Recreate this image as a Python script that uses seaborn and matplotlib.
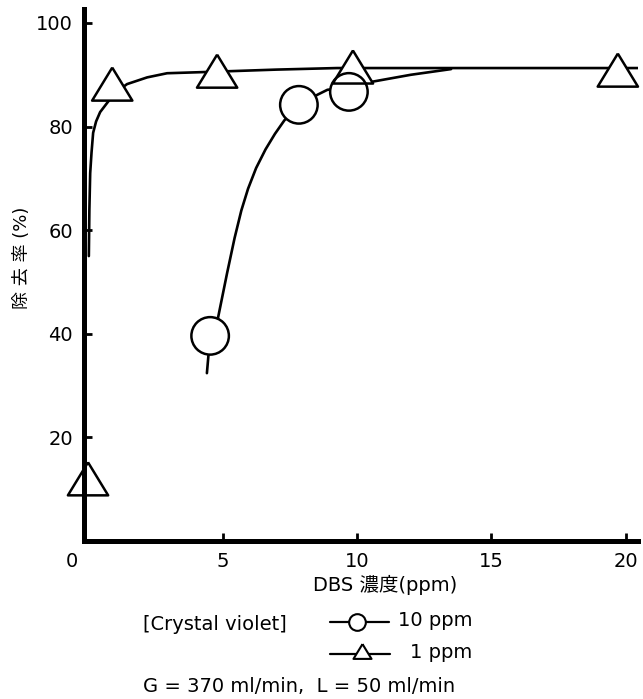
"""
Removal rate of crystal violet vs. DBS concentration (foam separation).
"""
import matplotlib
matplotlib.use('Agg')
import matplotlib.pyplot as plt
import matplotlib.transforms as mtransforms
from matplotlib.lines import Line2D
import pandas as pd
import seaborn as sns

conc_1ppm = [0.0, 0.9, 4.8, 9.85, 19.7]
rem_1ppm = [12.0, 88.2, 90.7, 91.5, 90.9]
conc_10ppm = [4.54, 7.84, 9.7]
rem_10ppm = [39.6, 84.2, 86.7]

# hand-drawn guide curves
fit_1ppm_x = [0.03, 0.05, 0.08, 0.13, 0.19, 0.3, 0.45, 0.7, 1.0, 1.45, 2.2,
              2.94, 4.16, 5.3, 7.0, 9.26, 12.0, 16.0, 20.45]
fit_1ppm_y = [55.0, 64.0, 71.0, 75.0, 78.8, 81.0, 82.8, 84.5, 86.5, 88.2, 89.5,
              90.3, 90.5, 90.7, 91.0, 91.3, 91.3, 91.3, 91.3]
fit_10ppm_x = [4.42, 4.54, 4.83, 5.17, 5.45, 5.7, 5.95, 6.25, 6.6, 6.95, 7.3,
               7.84, 8.55, 8.9, 9.7, 10.5, 12.0, 13.5]
fit_10ppm_y = [32.4, 39.6, 43.0, 51.7, 58.5, 63.8, 68.0, 72.0, 75.6, 78.6, 81.2,
               84.2, 86.2, 87.1, 87.6, 88.6, 90.0, 91.1]

x_ticks = [0, 5, 10, 15, 20]
y_ticks = [20, 40, 60, 80, 100]

sns.set_theme(style='ticks')
plt.rcParams['font.family'] = ['DejaVu Sans', 'Noto Sans CJK JP']
plt.rcParams['text.color'] = 'black'
plt.rcParams['axes.labelcolor'] = 'black'

W, H = 643, 699
fig = plt.figure(figsize=(W / 100, H / 100), dpi=100)
ax = fig.add_axes([84 / W, 1 - 541 / H, (638 - 84) / W, (541 - 9) / H])

# flattened triangle like the original
tri = [(0, 0.82), (-1, -0.82), (1, -0.82), (0, 0.82)]

pts = pd.concat([
    pd.DataFrame({'conc': conc_10ppm, 'rem': rem_10ppm, 'cv': '10 ppm'}),
    pd.DataFrame({'conc': conc_1ppm, 'rem': rem_1ppm, 'cv': '1 ppm'}),
])

sns.lineplot(x=fit_1ppm_x, y=fit_1ppm_y, sort=False, estimator=None, color='black',
             lw=1.9, ax=ax, zorder=2)
sns.lineplot(x=fit_10ppm_x, y=fit_10ppm_y, sort=False, estimator=None, color='black',
             lw=1.9, ax=ax, zorder=2)

markers = {'10 ppm': 'o', '1 ppm': tri}
sizes = {'10 ppm': 27 ** 2, '1 ppm': 29 ** 2}
# white fills first, outlines after, so overlapping markers both show
for cv, grp in pts.groupby('cv'):
    sns.scatterplot(data=grp, x='conc', y='rem', marker=markers[cv], s=sizes[cv],
                    color='white', edgecolor='none', ax=ax, zorder=2.1, clip_on=False,
                    legend=False)
for cv, grp in pts.groupby('cv'):
    sns.scatterplot(data=grp, x='conc', y='rem', marker=markers[cv], s=sizes[cv],
                    facecolor='none', edgecolor='black', linewidth=1.8, ax=ax,
                    zorder=2.2, clip_on=False, legend=False)

ax.set_xlim(-0.15, 20.45)
ax.set_ylim(0, 102.7)
ax.set_xticks(x_ticks)
ax.set_yticks(y_ticks)
ax.set_xlabel('')
ax.set_ylabel('')
sns.despine(ax=ax)
for side in ['left', 'bottom']:
    ax.spines[side].set_linewidth(3.6)
    ax.spines[side].set_color('black')
    ax.spines[side].set_capstyle('projecting')
    ax.spines[side].set_zorder(2.5)
ax.tick_params(direction='in', length=6, width=2, colors='black', labelsize=14)
ax.tick_params(axis='x', pad=8)
ax.tick_params(axis='y', pad=8)
ax.xaxis.get_major_ticks()[0].tick1line.set_visible(False)

# the "0" sits left of the corner in the original
lab0 = ax.get_xticklabels()[0]
lab0.set_transform(lab0.get_transform() +
                   mtransforms.ScaledTranslation(-16 / 100, 0, fig.dpi_scale_trans))


def fx(px):
    return px / W


def fy(py):
    return 1 - py / H


fig.text(fx(385), fy(585), 'DBS 濃度(ppm)', ha='center', va='center', fontsize=14)
fig.text(fx(22), fy(258), '除 去 率 (%)', rotation=90, ha='center', va='center',
         fontsize=13)

# legend block under the axis
fig.text(fx(143), fy(624), '[Crystal violet]', ha='left', va='center', fontsize=14)
fig.add_artist(Line2D([fx(330), fx(389)], [fy(622), fy(622)], color='black', lw=1.6,
                      transform=fig.transFigure))
fig.add_artist(Line2D([fx(357)], [fy(622)], color='black', lw=0, marker='o', ms=12,
                      mfc='white', mec='black', mew=1.5, transform=fig.transFigure))
fig.text(fx(472), fy(621), '10 ppm', ha='right', va='center', fontsize=14)
fig.add_artist(Line2D([fx(330), fx(390)], [fy(654), fy(654)], color='black', lw=1.6,
                      transform=fig.transFigure))
fig.add_artist(Line2D([fx(362)], [fy(651)], color='black', lw=0, marker=tri, ms=13,
                      mfc='white', mec='black', mew=1.5, transform=fig.transFigure))
fig.text(fx(472), fy(653), '1 ppm', ha='right', va='center', fontsize=14)
fig.text(fx(143), fy(686), 'G = 370 ml/min,  L = 50 ml/min', ha='left', va='center',
         fontsize=14)

fig.savefig('out.png', dpi=100, facecolor='white')
